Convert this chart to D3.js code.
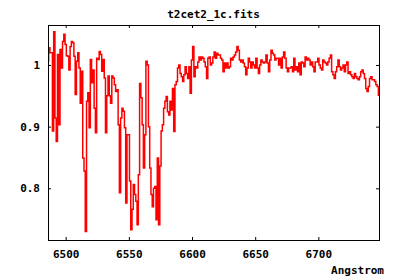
<!DOCTYPE html>
<html>
<head>
<meta charset="utf-8">
<script src="https://cdn.jsdelivr.net/npm/d3@7"></script>
<style>
  body { margin: 0; background: #fff; }
  text { font-family: 'DejaVu Sans Mono', monospace; font-weight: bold; font-size: 11px; fill: #000; }
</style>
</head>
<body>
<svg id="canvas" width="400" height="280"></svg>
<script>
// spectrum, one flux value per Angstrom starting at 6486
let startWave = 6486;
let flux = [
  1.006, 1.028, 1.02, 1.02, 0.893, 1.054, 0.914, 0.876, 1.017, 0.903,
  1.025, 0.995, 1.038, 1.05, 1.033, 1.015, 1.014, 0.992, 1.03, 1.038,
  1.036, 1.014, 0.952, 1.006, 1.02, 0.995, 0.938, 0.99, 0.849, 0.828,
  0.73, 0.941, 0.955, 0.898, 1.009, 0.971, 0.992, 0.93, 0.89, 1.011,
  1.009, 1.022, 1.017, 0.99, 1.009, 0.979, 0.89, 0.95, 0.982, 0.95,
  0.938, 0.982, 0.979, 0.968, 0.957, 0.96, 0.903, 0.793, 0.914, 0.93,
  0.925, 0.898, 0.776, 0.887, 0.887, 0.812, 0.733, 0.766, 0.806, 0.79,
  0.779, 0.741, 0.822, 0.97, 0.947, 0.903, 0.833, 0.887, 1.006, 1.0,
  0.9, 0.833, 0.79, 0.77, 0.8, 0.803, 0.749, 0.849, 0.741, 0.836,
  0.893, 0.903, 0.93, 0.941, 0.949, 0.924, 0.919, 0.941, 0.927, 0.962,
  0.892, 0.968, 0.973, 0.995, 1.0, 0.986, 0.981, 0.973, 0.984, 0.997,
  0.986, 0.978, 0.997, 0.954, 1.008, 1.03, 0.981, 0.997, 0.995, 1.005,
  1.013, 1.008, 1.013, 1.011, 1.005, 0.997, 0.978, 1.011, 1.013, 1.0,
  1.003, 1.013, 1.021, 1.011, 1.019, 1.016, 1.016, 1.011, 1.008, 0.989,
  1.003, 0.995, 1.003, 0.995, 0.997, 1.011, 1.008, 1.013, 1.016, 1.021,
  1.03, 1.024, 1.008, 1.005, 1.008, 1.003, 0.997, 0.984, 0.995, 1.011,
  1.005, 0.995, 1.005, 1.0, 0.995, 1.011, 0.995, 0.986, 1.0, 1.008,
  1.005, 1.003, 1.005, 1.016, 1.003, 0.989, 1.008, 1.024, 1.019, 1.016,
  1.008, 1.011, 1.011, 1.0, 1.011, 0.995, 1.013, 1.021, 1.011, 0.995,
  0.989, 0.995, 0.995, 0.997, 0.989, 1.011, 0.992, 0.997, 0.989, 1.003,
  0.984, 1.005, 1.003, 0.997, 1.013, 1.008, 1.011, 1.008, 1.0, 1.005,
  0.997, 0.989, 1.005, 1.005, 1.011, 1.0, 0.995, 0.992, 1.008, 1.005,
  1.003, 1.0, 1.005, 1.011, 1.016, 0.989, 0.984, 0.978, 0.989, 0.997,
  1.008, 0.997, 0.992, 0.995, 1.0, 0.989, 1.0, 1.005, 0.986, 0.989,
  0.984, 0.981, 0.978, 0.986, 0.981, 0.978, 0.976, 0.981, 0.989, 0.992,
  0.986, 0.978, 0.962, 0.957, 0.965, 0.978, 0.981, 0.976, 0.976, 0.973,
  0.968, 0.965, 0.951
];
let xTicks = [6500, 6550, 6600, 6650, 6700];
let yTicks = [0.8, 0.9, 1];
let title = 't2cet2_1c.fits';
let xLabel = 'Angstrom';

let canvas = d3.select('#canvas');
let plotLeft = 48, plotRight = 379, plotTop = 25, plotBottom = 240;

let xScale = d3.scaleLinear().domain([6486, 6748]).range([plotLeft, plotRight]);
let yScale = d3.scaleLinear().domain([0.7162, 1.0648]).range([plotBottom, plotTop]);

let points = flux.map((f, i) => [startWave + i, f]);

canvas.append('clipPath').attr('id', 'clip')
  .append('rect')
  .attr('x', plotLeft).attr('y', plotTop)
  .attr('width', plotRight - plotLeft).attr('height', plotBottom - plotTop);

let line = d3.line()
  .curve(d3.curveStep)
  .x(d => xScale(d[0]))
  .y(d => yScale(d[1]));

canvas.append('path')
  .datum(points)
  .attr('d', line)
  .attr('clip-path', 'url(#clip)')
  .attr('fill', 'none')
  .attr('stroke', '#ff0000')
  .attr('stroke-width', 1.5);

// axes with inward ticks on all four sides
let styleAxis = (g) => {
  g.select('.domain').remove();
  g.selectAll('.tick line').attr('stroke', '#000');
  g.selectAll('text').attr('fill', '#000');
};

canvas.append('g')
  .attr('transform', 'translate(0,' + plotBottom + ')')
  .call(d3.axisBottom(xScale).tickValues(xTicks).tickSize(-3).tickPadding(10).tickFormat(d3.format('d')))
  .call(styleAxis);

canvas.append('g')
  .attr('transform', 'translate(0,' + plotTop + ')')
  .call(d3.axisTop(xScale).tickValues(xTicks).tickSize(-3).tickFormat(''))
  .call(styleAxis);

canvas.append('g')
  .attr('transform', 'translate(' + plotLeft + ',0)')
  .call(d3.axisLeft(yScale).tickValues(yTicks).tickSize(-3).tickPadding(8).tickFormat(d => String(d)))
  .call(styleAxis);

canvas.append('g')
  .attr('transform', 'translate(' + plotRight + ',0)')
  .call(d3.axisRight(yScale).tickValues(yTicks).tickSize(-3).tickFormat(''))
  .call(styleAxis);

canvas.selectAll('.tick text')
  .style('font-family', "'DejaVu Sans Mono', monospace")
  .style('font-weight', 'bold')
  .style('font-size', '11px');

canvas.append('rect')
  .attr('x', plotLeft + 0.5).attr('y', plotTop + 0.5)
  .attr('width', plotRight - plotLeft).attr('height', plotBottom - plotTop)
  .attr('fill', 'none')
  .attr('stroke', '#000')
  .attr('stroke-width', 1);

canvas.append('text')
  .attr('x', (plotLeft + plotRight) / 2)
  .attr('y', 18)
  .attr('text-anchor', 'middle')
  .text(title);

canvas.append('text')
  .attr('x', 384)
  .attr('y', 274)
  .attr('text-anchor', 'end')
  .text(xLabel);
</script>
</body>
</html>
